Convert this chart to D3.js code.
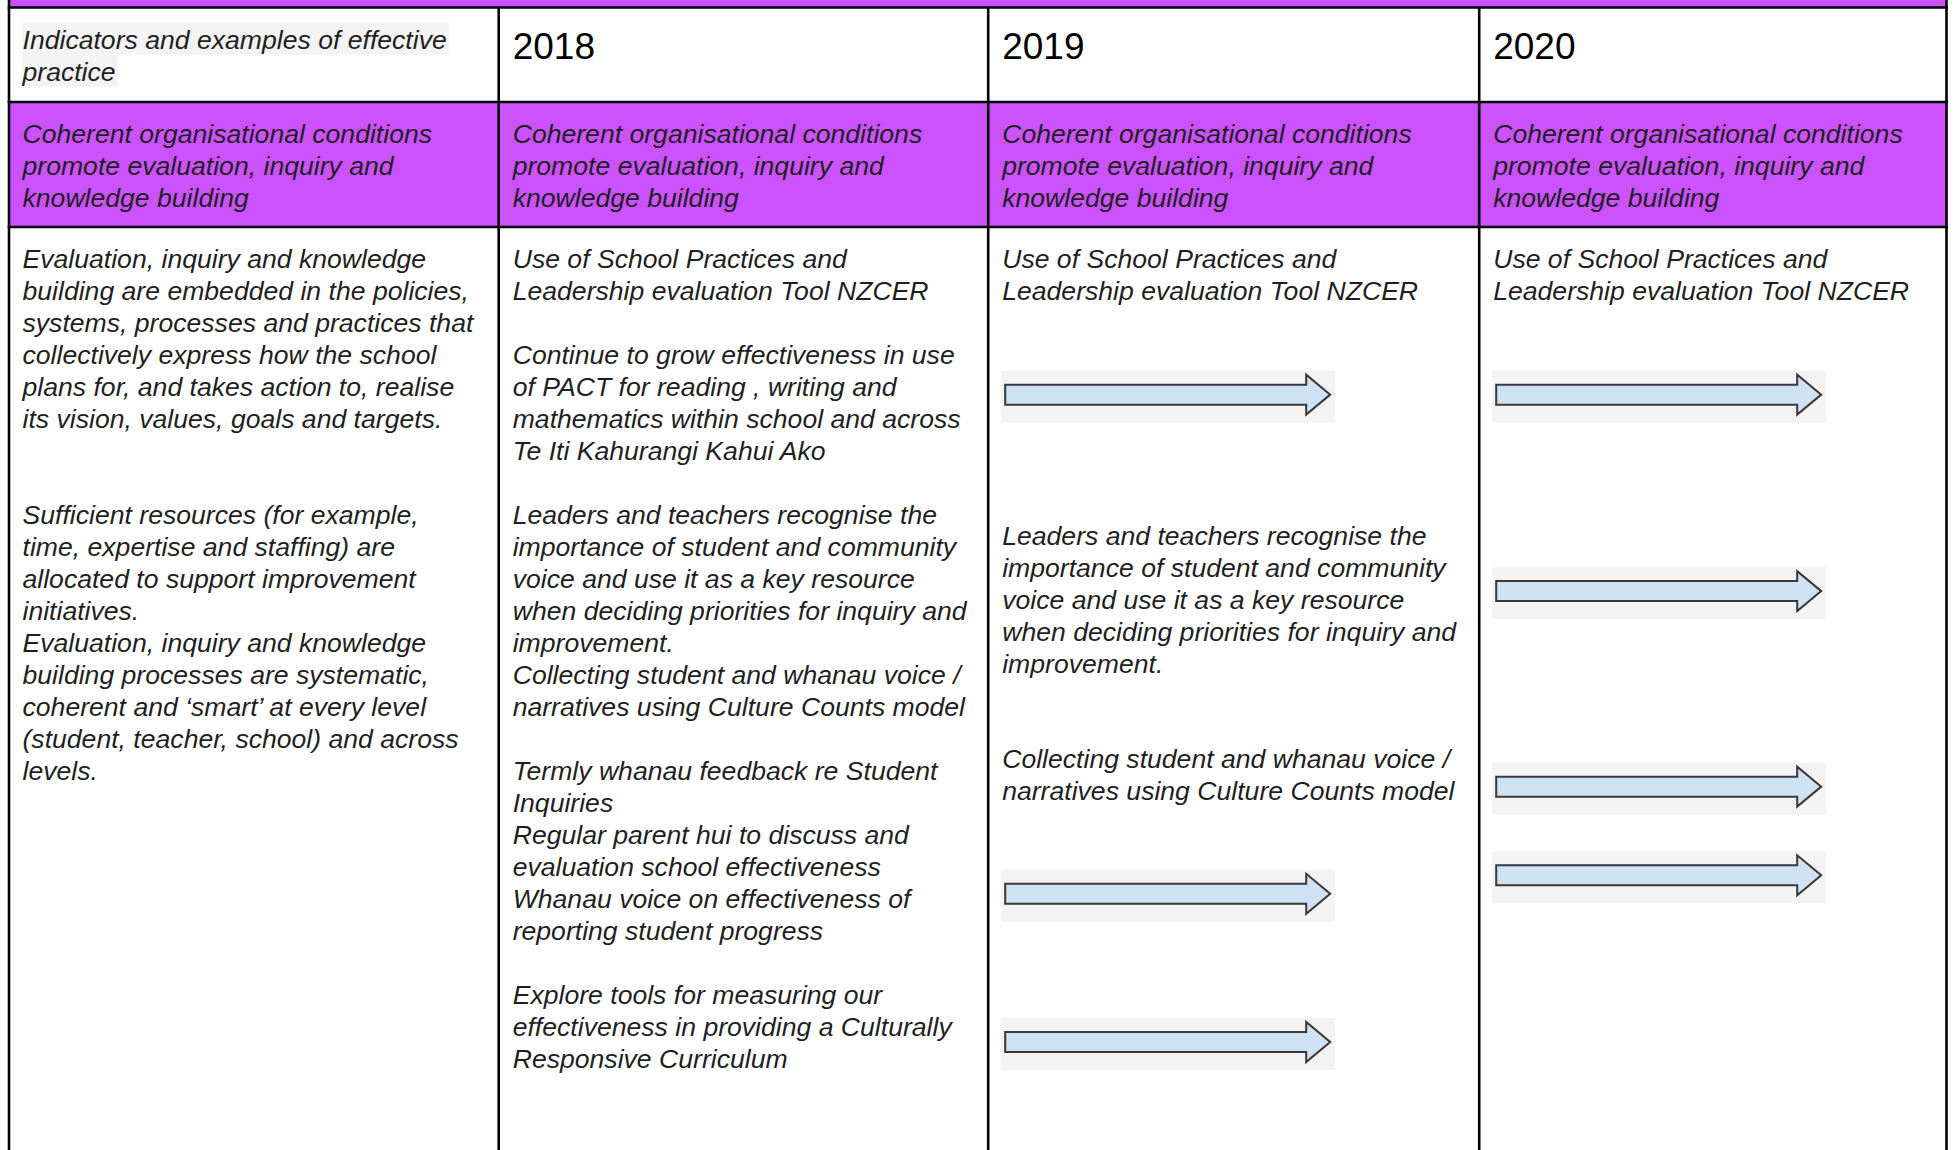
<!DOCTYPE html>
<html>
<head>
<meta charset="utf-8">
<script src="https://cdn.jsdelivr.net/npm/d3@7"></script>
<style>
  html, body { margin: 0; padding: 0; background: #ffffff; }
  svg { display: block; }
  text { font-family: "Liberation Sans", Arial, sans-serif; }
</style>
</head>
<body>
<div id="chart"></div>
<script>
// ---------------- DATA ----------------
const columnKeys = ["indicators", "2018", "2019", "2020"];
const years = ["2018", "2019", "2020"];
const headerLabel = ["Indicators and examples of effective", "practice"];
const sectionTitle = ["Coherent organisational conditions", "promote evaluation, inquiry and", "knowledge building"];

const indicatorLines = [
  "Evaluation, inquiry and knowledge",
  "building are embedded in the policies,",
  "systems, processes and practices that",
  "collectively express how the school",
  "plans for, and takes action to, realise",
  "its vision, values, goals and targets.",
  "",
  "",
  "Sufficient resources (for example,",
  "time, expertise and staffing) are",
  "allocated to support improvement",
  "initiatives.",
  "Evaluation, inquiry and knowledge",
  "building processes are systematic,",
  "coherent and \u2018smart\u2019 at every level",
  "(student, teacher, school) and across",
  "levels."
];

const plan2018Lines = [
  "Use of School Practices and",
  "Leadership evaluation Tool NZCER",
  "",
  "Continue to grow effectiveness in use",
  "of PACT for reading , writing and",
  "mathematics within school and across",
  "Te Iti Kahurangi Kahui Ako",
  "",
  "Leaders and teachers recognise the",
  "importance of student and community",
  "voice and use it as a key resource",
  "when deciding priorities for inquiry and",
  "improvement.",
  "Collecting student and whanau voice /",
  "narratives using Culture Counts model",
  "",
  "Termly whanau feedback re Student",
  "Inquiries",
  "Regular parent hui to discuss and",
  "evaluation school effectiveness",
  "Whanau voice on effectiveness of",
  "reporting student progress",
  "",
  "Explore tools for measuring our",
  "effectiveness in providing a Culturally",
  "Responsive Curriculum"
];

// 2019 text blocks: starting line (in body line units) and lines
const blocks2019Start = [0, 8.66, 15.62];
const blocks2019Lines = [
  ["Use of School Practices and", "Leadership evaluation Tool NZCER"],
  ["Leaders and teachers recognise the", "importance of student and community",
   "voice and use it as a key resource", "when deciding priorities for inquiry and", "improvement."],
  ["Collecting student and whanau voice /", "narratives using Culture Counts model"]
];
const blocks2020Start = [0];
const blocks2020Lines = [
  ["Use of School Practices and", "Leadership evaluation Tool NZCER"]
];

// continuation arrows: top of arrow image, in body line units
const arrows2019 = [4.02, 19.62, 24.25];
const arrows2020 = [4.02, 10.16, 16.27, 19.04];

// ---------------- LAYOUT ----------------
const W = 1954, H = 1150;
const colEdges = [9, 498.7, 988.2, 1479.2, 1946.5];
const rowEdges = { top: 7.5, header: 102, section: 227, bottom: 1150 };
const pad = 15;
const lineH = 32;
const baseOff = 26;
const fontSize = 26.6;
const purple = "#cc52ff";
const textColor = "#1f1f1f";
const borderW = 2.6;

const x = d3.scaleOrdinal().domain(columnKeys).range(colEdges.slice(0, 4));
const textX = k => x(k) + (k === "indicators" ? 13.5 : 14);

const bodyLine = d3.scaleLinear()
  .domain([0, 1])
  .range([rowEdges.section + pad, rowEdges.section + pad + lineH]);
const headLine = d3.scaleLinear().domain([0, 1]).range([rowEdges.top + pad, rowEdges.top + pad + lineH]);
const secLine = d3.scaleLinear().domain([0, 1]).range([rowEdges.header + pad, rowEdges.header + pad + lineH]);

const svg = d3.select("#chart").append("svg")
  .attr("width", W).attr("height", H);

svg.append("rect").attr("width", W).attr("height", H).attr("fill", "#ffffff");

// top band (continuation of merged row above)
svg.append("rect")
  .attr("x", colEdges[0]).attr("y", 0)
  .attr("width", colEdges[4] - colEdges[0]).attr("height", rowEdges.top)
  .attr("fill", purple);

// section row background
svg.append("rect")
  .attr("x", colEdges[0]).attr("y", rowEdges.header)
  .attr("width", colEdges[4] - colEdges[0]).attr("height", rowEdges.section - rowEdges.header)
  .attr("fill", purple);

// ---------------- HEADER ROW ----------------
const hdr = svg.append("g");
const hdrText = hdr.selectAll("text.hl").data(headerLabel).join("text")
  .attr("class", "hl")
  .attr("x", textX("indicators"))
  .attr("y", (d, i) => headLine(i) + baseOff)
  .attr("font-size", fontSize)
  .attr("font-style", "italic")
  .attr("fill", textColor)
  .text(d => d);
// highlight behind header label lines
hdrText.each(function (d, i) {
  const w = this.getComputedTextLength();
  hdr.insert("rect", "text")
    .attr("x", textX("indicators"))
    .attr("y", headLine(i))
    .attr("width", w + 2)
    .attr("height", lineH)
    .attr("fill", "#f3f3f3");
});

svg.append("g").selectAll("text").data(years).join("text")
  .attr("x", d => textX(d))
  .attr("y", rowEdges.top + 51.5)
  .attr("font-size", 37)
  .attr("fill", "#000000")
  .text(d => d);

// ---------------- SECTION ROW ----------------
svg.append("g").selectAll("g").data(columnKeys).join("g")
  .each(function (k) {
    d3.select(this).selectAll("text").data(sectionTitle).join("text")
      .attr("x", textX(k))
      .attr("y", (d, i) => secLine(i) + baseOff)
      .attr("font-size", fontSize)
      .attr("font-style", "italic")
      .attr("fill", textColor)
      .text(d => d);
  });

// ---------------- BODY ----------------
function drawLines(g, key, lines, start) {
  g.selectAll(null).data(lines).join("text")
    .attr("x", textX(key))
    .attr("y", (d, i) => bodyLine(start + i) + baseOff)
    .attr("font-size", fontSize)
    .attr("font-style", "italic")
    .attr("fill", textColor)
    .text(d => d);
}
const body = svg.append("g");
drawLines(body.append("g"), "indicators", indicatorLines, 0);
drawLines(body.append("g"), "2018", plan2018Lines, 0);
blocks2019Lines.forEach((lines, i) => drawLines(body.append("g"), "2019", lines, blocks2019Start[i]));
blocks2020Lines.forEach((lines, i) => drawLines(body.append("g"), "2020", lines, blocks2020Start[i]));

// arrows
const arrowW = 334, arrowH = 52;
const arrowPath = "M4,14 H305 V4 L329,24 L305,44 V34 H4 Z";
function drawArrows(key, positions) {
  const g = body.append("g").selectAll("g").data(positions).join("g")
    .attr("transform", d => `translate(${textX(key) - 1},${bodyLine(d)})`);
  g.append("rect").attr("width", arrowW).attr("height", arrowH).attr("fill", "#f3f3f3");
  g.append("path").attr("d", arrowPath)
    .attr("fill", "#cfe2f3")
    .attr("stroke", "#383838")
    .attr("stroke-width", 2)
    .attr("stroke-linejoin", "miter");
}
drawArrows("2019", arrows2019);
drawArrows("2020", arrows2020);

// ---------------- GRID LINES ----------------
const grid = svg.append("g").attr("stroke", "#000000").attr("stroke-width", borderW);
[rowEdges.top, rowEdges.header, rowEdges.section].forEach(y => {
  grid.append("line").attr("x1", colEdges[0] - borderW / 2).attr("x2", colEdges[4] + borderW / 2)
    .attr("y1", y).attr("y2", y);
});
colEdges.forEach((cx, i) => {
  const outer = i === 0 || i === colEdges.length - 1;
  grid.append("line").attr("x1", cx).attr("x2", cx)
    .attr("y1", outer ? 0 : rowEdges.top).attr("y2", H);
});
</script>
</body>
</html>
